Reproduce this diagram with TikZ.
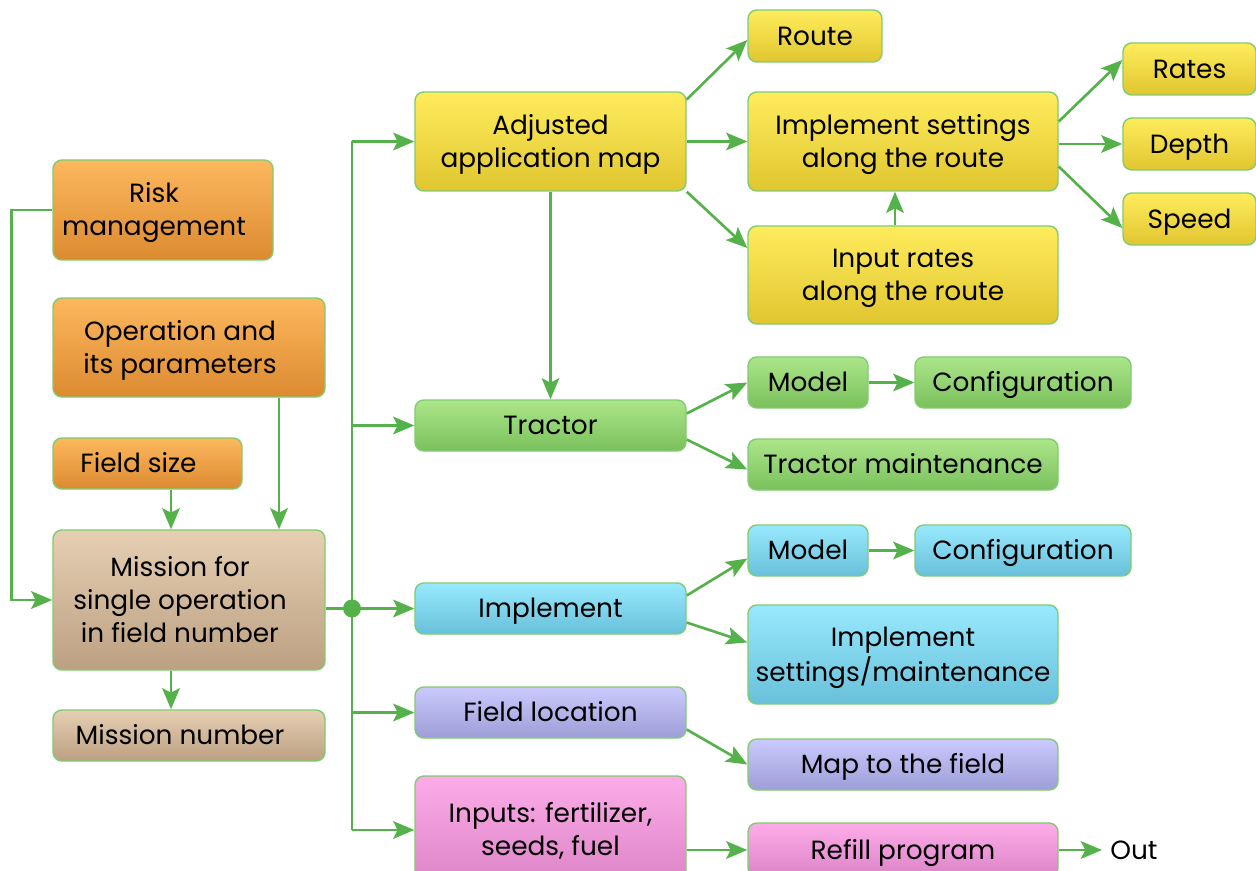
\documentclass[tikz,border=0pt]{standalone}
\usepackage{fontspec}
\setmainfont{Poppins}
\usetikzlibrary{arrows.meta,calc}
\definecolor{lnk}{RGB}{85,178,74}
\definecolor{edge}{RGB}{128,204,112}
\definecolor{orT}{RGB}{253,184,94}\definecolor{orB}{RGB}{220,138,48}
\definecolor{tnT}{RGB}{230,207,179}\definecolor{tnB}{RGB}{188,160,130}
\definecolor{ylT}{RGB}{255,236,92}\definecolor{ylB}{RGB}{224,198,48}
\definecolor{grT}{RGB}{172,230,138}\definecolor{grB}{RGB}{122,192,92}
\definecolor{cyT}{RGB}{152,233,253}\definecolor{cyB}{RGB}{104,192,218}
\definecolor{puT}{RGB}{202,202,253}\definecolor{puB}{RGB}{158,158,216}
\definecolor{piT}{RGB}{253,172,233}\definecolor{piB}{RGB}{220,132,198}
\tikzset{
  bxs/.style={draw=edge,line width=0.8pt,rounded corners=5pt,inner sep=0pt,
    font=\fontsize{15}{18.7}\selectfont},
  orb/.style={top color=orT,bottom color=orB},
  tnb/.style={top color=tnT,bottom color=tnB},
  ylb/.style={top color=ylT,bottom color=ylB},
  grb/.style={top color=grT,bottom color=grB},
  cyb/.style={top color=cyT,bottom color=cyB},
  pub/.style={top color=puT,bottom color=puB},
  pib/.style={top color=piT,bottom color=piB},
  arr/.style={draw=lnk,line width=1.5pt,-{Stealth[length=12pt,width=10pt,inset=2.5pt]}},
  ln/.style={draw=lnk,line width=1.5pt},
}
\newlength\mycap
% #1 = right padding of the text block
\newcommand\boxtext[2]{\settoheight{\mycap}{H}%
  \raisebox{0pt}[\dimexpr\height-0.7\baselineskip+\mycap\relax][0pt]{%
    \begin{tabular}[b]{@{}c@{\hspace{#1}}}#2\end{tabular}}}
\newcommand\mkbox[7]{\node[bxs,#2,minimum width={(#5-#3)*0.02cm},minimum height={(#6-#4)*0.02cm}] (#1) at ({(#3+#5)/2},{(#4+#6)/2}) {\boxtext{0pt}{#7}};}
\newcommand\mkboxl[7]{\node[bxs,#2,minimum width={(#5-#3)*0.02cm},minimum height={(#6-#4)*0.02cm}] (#1) at ({(#3+#5)/2},{(#4+#6)/2}) {\boxtext{0.36cm}{#7}};}
\begin{document}
\begin{tikzpicture}[x=0.02cm,y=-0.02cm]
\useasboundingbox (0,0) rectangle (1256,871);
\clip (0,0) rectangle (1256,871);
% left column
\mkboxl{risk}{orb}{53}{160}{273}{260}{Risk\\management}
\mkboxl{oper}{orb}{53}{298}{325}{397}{Operation and\\its parameters}
\mkboxl{fsize}{orb}{53}{438}{242}{489}{Field size}
\mkboxl{mission}{tnb}{53}{530}{325}{670}{Mission for\\single operation\\in field number}
\mkboxl{mnum}{tnb}{53}{710}{325}{761}{Mission number}
% middle column
\mkbox{adj}{ylb}{415}{92}{686}{191}{Adjusted\\application map}
\mkbox{tractor}{grb}{415}{400}{686}{451}{Tractor}
\mkbox{impl}{cyb}{415}{583}{686}{634}{Implement}
\mkbox{floc}{pub}{415}{687}{686}{738}{Field location}
\mkbox{inputs}{pib}{415}{776}{686}{884}{Inputs: fertilizer,\\seeds, fuel}
% right column
\mkbox{route}{ylb}{748}{10}{882}{62}{Route}
\mkbox{impset}{ylb}{748}{92}{1058}{191}{Implement settings\\along the route}
\mkbox{inrates}{ylb}{748}{226}{1058}{324}{Input rates\\along the route}
\mkbox{rates}{ylb}{1123}{43}{1256}{95}{Rates}
\mkbox{depth}{ylb}{1123}{118}{1256}{170}{Depth}
\mkbox{speed}{ylb}{1123}{193}{1256}{245}{Speed}
\mkbox{tmodel}{grb}{748}{357}{868}{408}{Model}
\mkbox{tconf}{grb}{915}{357}{1131}{408}{Configuration}
\mkbox{tmaint}{grb}{748}{439}{1058}{490}{Tractor maintenance}
\mkbox{imodel}{cyb}{748}{525}{868}{576}{Model}
\mkbox{iconf}{cyb}{915}{525}{1131}{576}{Configuration}
\mkbox{isetm}{cyb}{748}{605}{1058}{704}{Implement\\settings/maintenance}
\mkbox{map}{pub}{748}{739}{1058}{790}{Map to the field}
\mkbox{refill}{pib}{748}{823}{1058}{877}{Refill program}
\node[anchor=west,inner sep=0pt,font=\fontsize{15}{18.7}\selectfont] (out) at (1110,850) {\boxtext{0pt}{Out}};
% helper coordinates
\coordinate (bt) at (352,141.5);
\coordinate (bb) at (352,830);
\coordinate (ax) at (171,0);
\coordinate (ox) at (279,0);
% left connectors
\draw[arr] (risk.west) -- ++(-41,0) |- (mission.west);
\draw[arr] (fsize.south -| ax) -- (mission.north -| ax);
\draw[arr] (oper.south -| ox) -- (mission.north -| ox);
\draw[arr] (mission.south -| ax) -- (mnum.north -| ax);
% bus
\draw[ln] (bt) -- (bb);
\draw[ln] (mission.east |- impl.west) -- (impl.west -| bt) coordinate (dot);
\fill[lnk] (dot) circle[radius=9];
\draw[arr] (bt) -- (adj.west);
\draw[arr] (tractor.west -| bt) -- (tractor.west);
\draw[arr] (dot) -- (impl.west);
\draw[arr] (floc.west -| bt) -- (floc.west);
\draw[arr] (bb) -- (inputs.west);
% adjusted map
\draw[arr] ($(adj.east)+(0,-42)$) -- ($(route.west)+(0,4)$);
\draw[arr] (adj.east) -- (impset.west);
\draw[arr] (adj.south east) -- ($(inrates.west)+(0,-27)$);
\draw[arr] ($(inrates.north)+(-8,0)$) -- ($(impset.south)+(-8,0)$);
\draw[arr] (adj.south) -- (tractor.north);
% implement settings
\draw[arr] ($(impset.east)+(0,-20)$) -- ($(rates.west)+(0,-9)$);
\draw[arr] (depth.west -| impset.east) -- (depth.west);
\draw[arr] ($(impset.east)+(0,25)$) -- ($(speed.west)+(0,9)$);
% tractor
\draw[arr] ($(tractor.east)+(0,-12)$) -- (tmodel.west);
\draw[arr] (tmodel.east) -- (tconf.west);
\draw[arr] ($(tractor.east)+(0,14)$) -- ($(tmaint.west)+(0,5)$);
% implement
\draw[arr] ($(impl.east)+(0,-13)$) -- ($(imodel.west)+(0,8)$);
\draw[arr] (imodel.east) -- (iconf.west);
\draw[arr] ($(impl.east)+(0,14)$) -- ($(isetm.west)+(0,-12)$);
% field location
\draw[arr] ($(floc.east)+(0,17)$) -- (map.west);
% inputs
\draw[arr] (inputs.east |- refill.west) -- (refill.west);
\draw[arr] (refill.east) -- ($(out.west)+(-8,0)$);
\end{tikzpicture}
\end{document}
